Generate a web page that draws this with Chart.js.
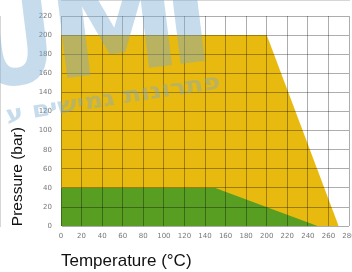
<!DOCTYPE html>
<html>
<head>
<meta charset="utf-8">
<script src="https://cdn.jsdelivr.net/npm/chart.js@4/dist/chart.umd.min.js"></script>
<style>
  html, body { margin: 0; padding: 0; background: #fff; }
</style>
</head>
<body>
<canvas id="myChart" width="352" height="272"></canvas>
<script>
// pressure / temperature envelope
const yellowTemps = [0, 200, 270];
const yellowPress = [200, 200, 0];
const greenTemps = [0, 150, 250];
const greenPress = [40, 40, 0];

const xTitle = "Temperature (°C)";
const yTitle = "Pressure (bar)";
const markSub = "פתרונות גמישים ע";

function toPoints(xs, ys) {
    return xs.map((x, i) => ({ x: x, y: ys[i] }));
}

// light blue watermark over the finished chart
const watermark = {
    id: "watermark",
    afterDraw(chart) {
        const ctx = chart.ctx;
        ctx.save();
        ctx.globalAlpha = 0.42;
        ctx.fillStyle = "rgb(120,170,210)";
        ctx.textBaseline = "alphabetic";
        ctx.textAlign = "left";
        ctx.font = "bold 130px 'DejaVu Sans'";

        ctx.save();
        ctx.translate(0, 86);
        ctx.rotate(-7 * Math.PI / 180);
        // narrow U
        ctx.save();
        ctx.translate(-22, 0);
        ctx.scale(0.78, 1);
        ctx.fillText("U", 0, 0);
        ctx.restore();
        ctx.fillText("M", 56, 0);
        ctx.fillText("I", 170, 0);
        ctx.restore();

        ctx.translate(221, 88);
        ctx.rotate(-9 * Math.PI / 180);
        ctx.scale(1.18, 1);
        ctx.font = "bold 22px 'DejaVu Sans'";
        ctx.direction = "rtl";
        ctx.textAlign = "right";
        ctx.fillText(markSub, 0, 0);
        ctx.restore();
    }
};

const ctx = document.getElementById("myChart");
new Chart(ctx, {
    type: "line",
    data: {
        datasets: [
            {
                data: toPoints(greenTemps, greenPress),
                backgroundColor: "rgb(88,158,34)",
                borderWidth: 0,
                pointRadius: 0,
                fill: "origin",
                tension: 0
            },
            {
                data: toPoints(yellowTemps, yellowPress),
                backgroundColor: "rgb(232,185,15)",
                borderWidth: 0,
                pointRadius: 0,
                fill: "origin",
                tension: 0
            }
        ]
    },
    options: {
        responsive: false,
        animation: false,
        layout: { padding: { left: 0, right: 3, top: 16, bottom: 0 } },
        plugins: {
            legend: { display: false },
            tooltip: { enabled: false }
        },
        scales: {
            x: {
                type: "linear",
                min: 0,
                max: 280,
                grid: { color: "rgba(0,0,0,0.32)", lineWidth: 1, drawTicks: false, z: 1 },
                border: { color: "rgba(0,0,0,0.32)" },
                ticks: {
                    stepSize: 20,
                    padding: 6,
                    maxRotation: 0,
                    minRotation: 0,
                    autoSkip: false,
                    color: "#777",
                    font: { family: "'DejaVu Sans'", size: 7 }
                },
                title: {
                    display: true,
                    text: xTitle,
                    align: "start",
                    color: "#111",
                    font: { family: "'Liberation Sans'", size: 17 },
                    padding: { top: 5, bottom: 0 }
                },
                afterFit(scale) {
                    scale.paddingLeft = 0;
                    scale.paddingRight = 0;
                }
            },
            y: {
                min: 0,
                max: 220,
                grid: { color: "rgba(0,0,0,0.32)", lineWidth: 1, drawTicks: false, z: 1 },
                border: { color: "rgba(0,0,0,0.32)" },
                ticks: {
                    stepSize: 20,
                    padding: 9,
                    color: "#777",
                    font: { family: "'DejaVu Sans'", size: 7 }
                },
                title: {
                    display: true,
                    text: yTitle,
                    align: "start",
                    color: "#111",
                    font: { family: "'Liberation Sans'", size: 15.5 },
                    padding: { top: 8, bottom: 0 }
                },
                afterFit(scale) {
                    scale.width = 61;
                }
            }
        }
    },
    plugins: [watermark]
});
</script>
</body>
</html>
